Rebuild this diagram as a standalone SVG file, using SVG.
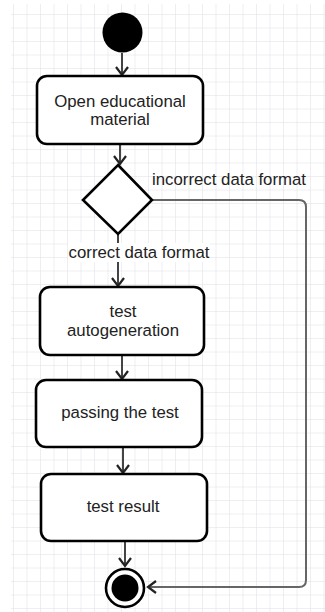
<svg xmlns="http://www.w3.org/2000/svg" width="325" height="612" viewBox="0 0 325 612">
<style>
.node{fill:#fff;stroke:#000;stroke-width:2.6}
.lbl{font-family:"Liberation Sans",Arial,sans-serif;font-size:16.8px;fill:#222;text-anchor:middle}
.edge{fill:none;stroke:#444;stroke-width:2}
.edge2{fill:none;stroke:#666;stroke-width:2}
</style>
<defs>
<pattern id="grid" patternUnits="userSpaceOnUse" x="0.5" y="1.5" width="13.5" height="13.5">
<path d="M13.5 0V13.5M0 13.5H13.5" fill="none" stroke="#dfdfe6" stroke-width="1"/>
</pattern>
<marker id="arr" markerWidth="14" markerHeight="14" refX="12" refY="7" orient="auto" markerUnits="userSpaceOnUse">
<path d="M4 1L12 7L4 13" fill="none" stroke="#222" stroke-width="2.2"/>
</marker>
</defs>
<rect width="325" height="612" fill="#fff"/>
<rect x="11" y="4" width="314" height="608" fill="url(#grid)"/>
<g id="connectors">
<path class="edge" d="M122 53V75" marker-end="url(#arr)"/>
<path class="edge" d="M120 145V164" marker-end="url(#arr)"/>
<path class="edge" d="M118 234V286" marker-end="url(#arr)"/>
<path class="edge" d="M122 356V379" marker-end="url(#arr)"/>
<path class="edge" d="M123 448V473" marker-end="url(#arr)"/>
<path class="edge" d="M125 542V566" marker-end="url(#arr)"/>
<path class="edge2" d="M152 200H299Q306 200 306 207V580Q306 587 299 587H148" marker-end="url(#arr)"/>
<rect x="68" y="243" width="142" height="19" fill="#fff"/>
<text class="lbl" x="139" y="258" font-size="16.4">correct data format</text>
<text class="lbl" x="229" y="185" font-size="16.4">incorrect data format</text>
</g>
<g id="start"><circle cx="122.5" cy="32.5" r="20" fill="#000"/></g>
<g id="open">
<rect class="node" x="37" y="76" width="166" height="68" rx="10"/>
<text class="lbl" x="120" y="107">Open educational</text>
<text class="lbl" x="120" y="125">material</text>
</g>
<g id="decision"><path class="node" d="M118 165L152 200L118 234L83 200Z"/></g>
<g id="autogen">
<rect class="node" x="40" y="287" width="164" height="68" rx="10"/>
<text class="lbl" x="123" y="317">test</text>
<text class="lbl" x="123" y="336">autogeneration</text>
</g>
<g id="passing">
<rect class="node" x="36" y="380" width="166" height="67" rx="10"/>
<text class="lbl" x="120" y="418">passing the test</text>
</g>
<g id="result">
<rect class="node" x="41" y="474" width="166" height="67" rx="10"/>
<text class="lbl" x="123" y="512">test result</text>
</g>
<g id="end">
<circle cx="125" cy="588" r="19" fill="#fff" stroke="#000" stroke-width="2.6"/>
<circle cx="125" cy="588" r="13.5" fill="#000"/>
</g>
</svg>
